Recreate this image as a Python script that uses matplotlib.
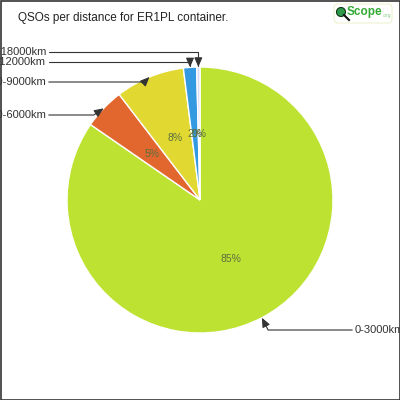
import numpy as np
import matplotlib.pyplot as plt
from matplotlib.patches import Rectangle, Circle, FancyBboxPatch

plt.rcParams['font.family'] = ['Liberation Sans', 'DejaVu Sans']

labels = ["0-3000km", "3000-6000km", "6000-9000km", "9000-12000km", "12000-18000km"]
values = [84.6, 5.0, 8.4, 1.6, 0.4]
colors = ["#bee232", "#e2672f", "#e2d832", "#3399e0", "#dcdcf8"]
title = "QSOs per distance for ER1PL container."

# label text spots in figure pixels (x, y from top), alignment, corner angle
label_pos = [(355, 330, 'left', 117),
             (46, 115, 'right', 34),
             (46, 82, 'right', 45),
             (46, 62, 'right', 90),
             (46, 52, 'right', 90)]

fig = plt.figure(figsize=(4, 4), dpi=100)
ax = fig.add_axes([0, 0, 1, 1])

wedges, texts, autotexts = ax.pie(values, colors=colors, startangle=90, counterclock=False,
                                  autopct='%1.0f%%', pctdistance=0.5, radius=1.0,
                                  wedgeprops=dict(edgecolor='white', linewidth=1),
                                  textprops=dict(fontsize=7.5, color='#5a7040'))
lim = 200 / 133
ax.set_xlim(-lim, lim)
ax.set_ylim(-lim, lim)
ax.set_aspect('equal')
ax.axis('off')

for w, lab, (tx, ty, ha, angB) in zip(wedges, labels, label_pos):
    mid = np.deg2rad((w.theta1 + w.theta2) / 2)
    xy = (np.cos(mid), np.sin(mid))
    ax.annotate(lab, xy=xy, xycoords='data', xytext=(tx, 400 - ty), textcoords='figure pixels',
                ha=ha, va='center', fontsize=8, color='#333333',
                arrowprops=dict(arrowstyle="-|>,head_length=0.7,head_width=0.3", color='#333333',
                                lw=0.8, shrinkA=0, shrinkB=0,
                                connectionstyle=f"angle,angleA=0,angleB={angB},rad=0"))

fig.text(18 / 400, 1 - 18 / 400, title, fontsize=8.5, color='#222222', ha='left', va='center')

# little logo top right
fig.patches.append(FancyBboxPatch((334 / 400, 1 - 23 / 400), 58 / 400, 19 / 400,
                                  boxstyle="round,pad=0,rounding_size=0.01",
                                  transform=fig.transFigure, facecolor='white',
                                  edgecolor='#eef3d0', lw=0.8))
fig.patches.append(Circle((341 / 400, 1 - 12 / 400), 4.5 / 400, transform=fig.transFigure,
                          facecolor='#2e9a4a', edgecolor='#113311', lw=0.8))
fig.lines.append(plt.Line2D([344 / 400, 349 / 400], [1 - 15 / 400, 1 - 20 / 400],
                            transform=fig.transFigure, color='#111111', lw=1.5))
fig.text(347 / 400, 1 - 12 / 400, "Scope", fontsize=8.5, fontweight='bold', color='#33aa33',
         ha='left', va='center')
fig.text(383 / 400, 1 - 15 / 400, ".org", fontsize=3.5, color='#88cc88', ha='left', va='center')

fig.patches.append(Rectangle((0.5 / 400, 0.5 / 400), 399 / 400, 399 / 400, transform=fig.transFigure,
                             fill=False, edgecolor='#333333', lw=1.2))

fig.savefig("out.png", dpi=100)
